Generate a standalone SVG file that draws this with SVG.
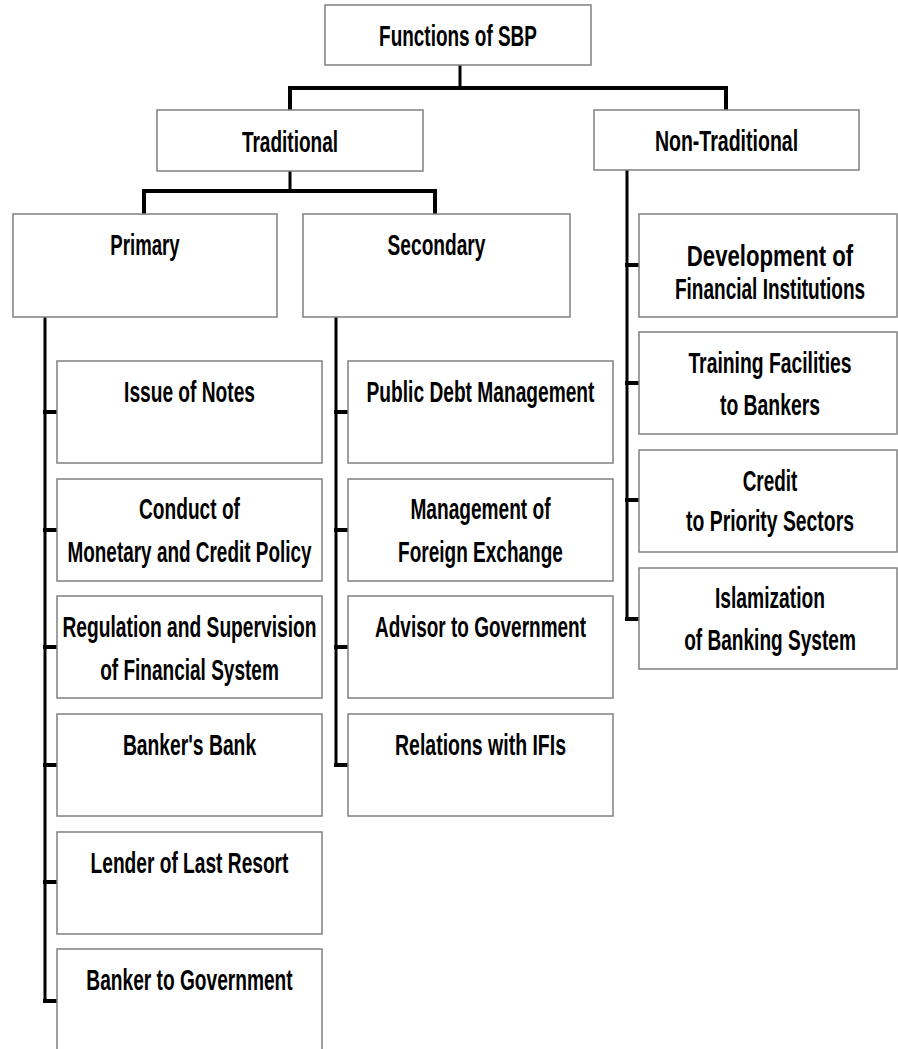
<svg xmlns="http://www.w3.org/2000/svg" width="898" height="1049" viewBox="0 0 898 1049">
<style>
.box{fill:#fff;stroke:#808080;stroke-width:1.5}
.t{font-family:"Liberation Sans Narrow","Liberation Sans",Arial,sans-serif;font-weight:bold;font-size:30px;fill:#000;text-anchor:middle}
.c{stroke:#000;stroke-width:4;fill:none;stroke-linecap:square}
.v{stroke:#000;stroke-width:3;fill:none}
</style>
<rect width="898" height="1049" fill="#fff"/>
<g id="connectors">
<line class="v" x1="460" y1="65" x2="460" y2="88"/>
<path class="c" d="M290 110 V88 H726 V110"/>
<line class="v" x1="290" y1="171" x2="290" y2="191"/>
<path class="c" d="M144 214 V191 H435 V214"/>
<line class="v" x1="45" y1="317" x2="45" y2="1002"/>
<path class="c" d="M45 412 H57 M45 530 H57 M45 647 H57 M45 765 H57 M45 882 H57 M45 1001 H57"/>
<line class="v" x1="336" y1="317" x2="336" y2="766"/>
<path class="c" d="M336 412 H348 M336 530 H348 M336 647 H348 M336 765 H348"/>
<line class="v" x1="627" y1="170" x2="627" y2="620"/>
<path class="c" d="M627 265 H639 M627 383 H639 M627 500 H639 M627 619 H639"/>
</g>
<g id="functions"><rect class="box" x="325" y="5" width="266" height="60"/><text class="t" transform="translate(458 46) scale(0.77 1)" textLength="205" lengthAdjust="spacingAndGlyphs">Functions of SBP</text></g>
<g id="traditional"><rect class="box" x="157" y="110" width="266" height="61"/><text class="t" transform="translate(290 152) scale(0.77 1)" textLength="125" lengthAdjust="spacingAndGlyphs">Traditional</text></g>
<g id="non-traditional"><rect class="box" x="594" y="110" width="265" height="60"/><text class="t" transform="translate(726.5 151) scale(0.77 1)" textLength="186" lengthAdjust="spacingAndGlyphs">Non-Traditional</text></g>
<g id="primary"><rect class="box" x="13" y="214" width="264" height="103"/><text class="t" transform="translate(145 255) scale(0.77 1)" textLength="90" lengthAdjust="spacingAndGlyphs">Primary</text></g>
<g id="secondary"><rect class="box" x="303" y="214" width="267" height="103"/><text class="t" transform="translate(436.5 255) scale(0.77 1)" textLength="127" lengthAdjust="spacingAndGlyphs">Secondary</text></g>

<g id="issue-notes"><rect class="box" x="57" y="361" width="265" height="102"/><text class="t" transform="translate(189.5 402) scale(0.77 1)" textLength="170" lengthAdjust="spacingAndGlyphs">Issue of Notes</text></g>
<g id="monetary-policy"><rect class="box" x="57" y="479" width="265" height="102"/><text class="t" transform="translate(189.5 519) scale(0.77 1)" textLength="131" lengthAdjust="spacingAndGlyphs">Conduct of</text><text class="t" transform="translate(189.5 562) scale(0.77 1)" textLength="317" lengthAdjust="spacingAndGlyphs">Monetary and Credit Policy</text></g>
<g id="regulation"><rect class="box" x="57" y="596" width="265" height="102"/><text class="t" transform="translate(189.5 637) scale(0.77 1)" textLength="330" lengthAdjust="spacingAndGlyphs">Regulation and Supervision</text><text class="t" transform="translate(189.5 680) scale(0.77 1)" textLength="232" lengthAdjust="spacingAndGlyphs">of Financial System</text></g>
<g id="bankers-bank"><rect class="box" x="57" y="714" width="265" height="102"/><text class="t" transform="translate(189.5 755) scale(0.77 1)" textLength="173" lengthAdjust="spacingAndGlyphs">Banker's Bank</text></g>
<g id="lender"><rect class="box" x="57" y="832" width="265" height="102"/><text class="t" transform="translate(189.5 873) scale(0.77 1)" textLength="257" lengthAdjust="spacingAndGlyphs">Lender of Last Resort</text></g>
<g id="banker-gov"><rect class="box" x="57" y="949" width="265" height="102"/><text class="t" transform="translate(189.5 990) scale(0.77 1)" textLength="268" lengthAdjust="spacingAndGlyphs">Banker to Government</text></g>

<g id="public-debt"><rect class="box" x="348" y="361" width="265" height="102"/><text class="t" transform="translate(480.5 402) scale(0.77 1)" textLength="296" lengthAdjust="spacingAndGlyphs">Public Debt Management</text></g>
<g id="foreign-exchange"><rect class="box" x="348" y="479" width="265" height="102"/><text class="t" transform="translate(480.5 519) scale(0.77 1)" textLength="182" lengthAdjust="spacingAndGlyphs">Management of</text><text class="t" transform="translate(480.5 562) scale(0.77 1)" textLength="214" lengthAdjust="spacingAndGlyphs">Foreign Exchange</text></g>
<g id="advisor"><rect class="box" x="348" y="596" width="265" height="102"/><text class="t" transform="translate(480.5 637) scale(0.77 1)" textLength="274" lengthAdjust="spacingAndGlyphs">Advisor to Government</text></g>
<g id="ifis"><rect class="box" x="348" y="714" width="265" height="102"/><text class="t" transform="translate(480.5 755) scale(0.77 1)" textLength="222" lengthAdjust="spacingAndGlyphs">Relations with IFIs</text></g>

<g id="development"><rect class="box" x="639" y="214" width="258" height="103"/><text class="t" transform="translate(770 266) scale(0.77 1)" textLength="216" lengthAdjust="spacingAndGlyphs">Development of</text><text class="t" transform="translate(770 299) scale(0.77 1)" textLength="247" lengthAdjust="spacingAndGlyphs">Financial Institutions</text></g>
<g id="training"><rect class="box" x="639" y="332" width="258" height="102"/><text class="t" transform="translate(770 373) scale(0.77 1)" textLength="212" lengthAdjust="spacingAndGlyphs">Training Facilities</text><text class="t" transform="translate(770 415) scale(0.77 1)" textLength="130" lengthAdjust="spacingAndGlyphs">to Bankers</text></g>
<g id="credit"><rect class="box" x="639" y="450" width="258" height="102"/><text class="t" transform="translate(770 491) scale(0.77 1)" textLength="71" lengthAdjust="spacingAndGlyphs">Credit</text><text class="t" transform="translate(770 531) scale(0.77 1)" textLength="218" lengthAdjust="spacingAndGlyphs">to Priority Sectors</text></g>
<g id="islamization"><rect class="box" x="639" y="568" width="258" height="101"/><text class="t" transform="translate(770 608) scale(0.77 1)" textLength="143" lengthAdjust="spacingAndGlyphs">Islamization</text><text class="t" transform="translate(770 650) scale(0.77 1)" textLength="223" lengthAdjust="spacingAndGlyphs">of Banking System</text></g>
</svg>
